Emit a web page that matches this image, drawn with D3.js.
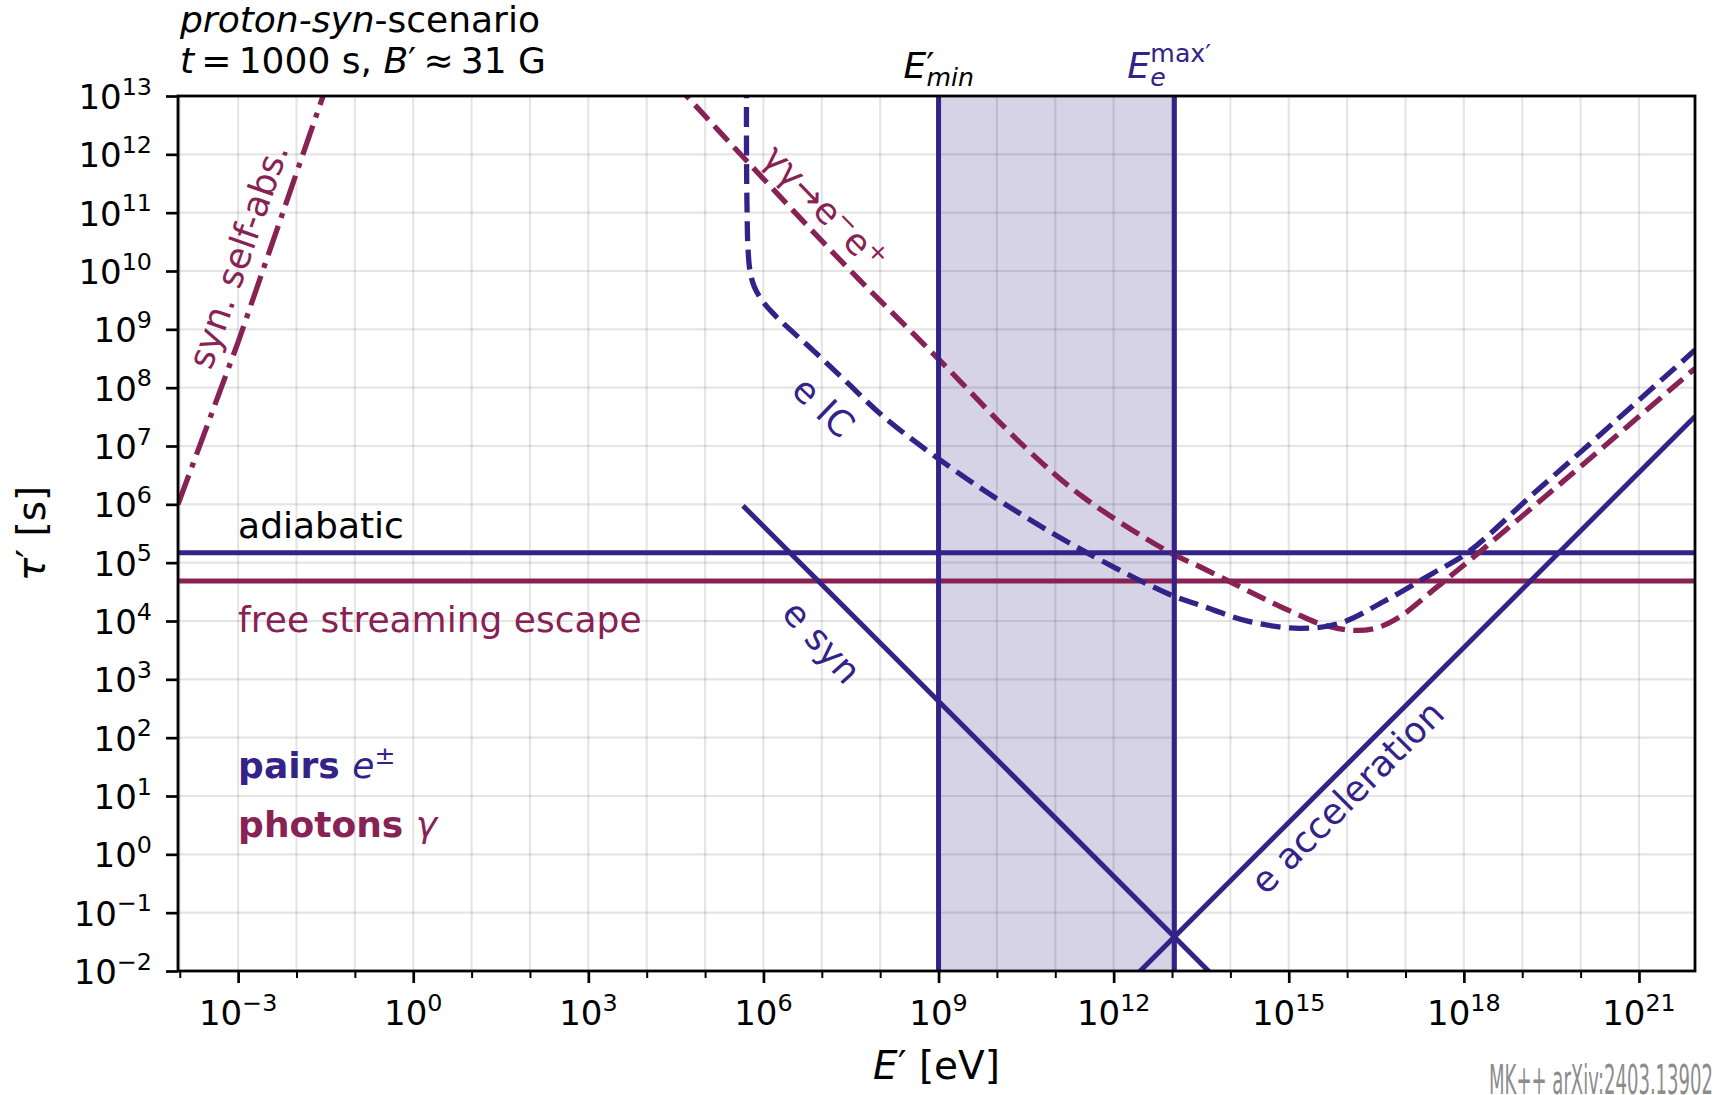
<!DOCTYPE html>
<html>
<head>
<meta charset="utf-8">
<script src="https://cdn.jsdelivr.net/npm/d3@7/dist/d3.min.js"></script>
<style>
html,body{margin:0;padding:0;background:#fff;}
svg{display:block;}
text{font-family:"DejaVu Sans","Noto Sans",sans-serif;}
</style>
</head>
<body>
<svg id="chart" width="1716" height="1095"></svg>
<script>
// ---------------- data (log10 values) ----------------
const xDomainLog = [-4.03, 21.96];            // log10 E' [eV]
const yDomainLog = [-2, 13];                  // log10 tau' [s]
const xMajorTickLogs = [-3, 0, 3, 6, 9, 12, 15, 18, 21];
const xMinorTickLogs = [-4, -2, -1, 1, 2, 4, 5, 7, 8, 10, 11, 13, 14, 16, 17, 19, 20];
const yTickLogs = [-2, -1, 0, 1, 2, 3, 4, 5, 6, 7, 8, 9, 10, 11, 12, 13];

const adiabaticLogTau = 5.17;
const freeStreamLogTau = 4.685;
const eMinLog = 9.0;
const eMaxLog = 13.04;

const synSelfAbsLogE   = [-4.03, -3.0, -1.2];
const synSelfAbsLogTau = [6.0, 8.78, 14.0];

const eSynLogE   = [5.65, 13.7];
const eSynLogTau = [5.975, -2.075];

const eAccLogE   = [12.3, 21.96];
const eAccLogTau = [-2.155, 7.505];

const eICLogE   = [5.71, 5.71, 5.72, 5.735, 5.77, 5.84, 5.96, 6.15, 6.43, 6.85, 7.37, 8.06, 9.0, 10.16, 11.47, 12.97, 13.48, 14.33, 15.19, 15.87, 16.62, 17.47, 18.06, 19.19, 20.33, 21.96];
const eICLogTau = [13.3, 12.0, 11.0, 10.4, 10.0, 9.74, 9.52, 9.29, 9.02, 8.64, 8.15, 7.50, 6.78, 5.99, 5.21, 4.45, 4.27, 3.99, 3.875, 3.96, 4.33, 4.82, 5.17, 6.18, 7.19, 8.645];

const ggLogE   = [4.5, 5.73, 7.37, 9.0, 10.48, 11.47, 12.97, 13.48, 14.62, 15.07, 15.6, 16.1, 16.5, 16.9, 17.5, 18.05, 19.19, 20.33, 21.96];
const ggLogTau = [13.2, 11.87, 10.13, 8.49, 6.98, 6.13, 5.17, 4.93, 4.36, 4.15, 3.93, 3.84, 3.88, 4.07, 4.55, 5.0, 5.96, 6.93, 8.33];

// label anchors (log10 E, log10 tau)
const labelSynSelfAbs = [-3.0, 10.26];
const labelGG = [7.05, 11.08];
const labelIC = [7.03, 7.67];
const labelESyn = [7.0, 3.64];
const labelEAcc = [16.0, 0.98];
const textLeftLogE = -3.0;
const adiabaticTextLogTau = 5.42;
const freeTextLogTau = 3.81;
const pairsTextLogTau = 1.31;
const photonsTextLogTau = 0.297;

// ---------------- setup ----------------
const INDIGO = "#332288", WINE = "#882255";
const M = {left: 178, right: 1695, top: 96, bottom: 971};
const svg = d3.select("#chart");
const p10 = v => Math.pow(10, v);

const x = d3.scaleLog().domain(xDomainLog.map(p10)).range([M.left, M.right]);
const y = d3.scaleLog().domain(yDomainLog.map(p10)).range([M.bottom, M.top]);

svg.append("defs").append("clipPath").attr("id", "plotclip")
  .append("rect").attr("x", M.left).attr("y", M.top)
  .attr("width", M.right - M.left).attr("height", M.bottom - M.top);

// shaded band
svg.append("rect")
  .attr("x", x(p10(eMinLog))).attr("y", M.top)
  .attr("width", x(p10(eMaxLog)) - x(p10(eMinLog)))
  .attr("height", M.bottom - M.top)
  .attr("fill", INDIGO).attr("fill-opacity", 0.2);

// grid
const grid = svg.append("g").attr("stroke", "#000").attr("stroke-opacity", 0.1).attr("stroke-width", 2.2);
d3.range(-4, 22).forEach(e => {
  grid.append("line").attr("x1", x(p10(e))).attr("x2", x(p10(e)))
    .attr("y1", M.top).attr("y2", M.bottom);
});
yTickLogs.forEach(e => {
  grid.append("line").attr("y1", y(p10(e))).attr("y2", y(p10(e)))
    .attr("x1", M.left).attr("x2", M.right);
});

const plot = svg.append("g").attr("clip-path", "url(#plotclip)");
const pts = (xs, ys) => xs.map((v, i) => [v, ys[i]]);
const lineLin = d3.line().x(d => x(p10(d[0]))).y(d => y(p10(d[1])));
const lineCurve = d3.line().x(d => x(p10(d[0]))).y(d => y(p10(d[1]))).curve(d3.curveCatmullRom.alpha(0.5));

const LW = 5.0;
const LWD = 5.3;
// horizontal lines
plot.append("path").attr("d", lineLin(pts(xDomainLog, [adiabaticLogTau, adiabaticLogTau])))
  .attr("fill", "none").attr("stroke", INDIGO).attr("stroke-width", LW);
plot.append("path").attr("d", lineLin(pts(xDomainLog, [freeStreamLogTau, freeStreamLogTau])))
  .attr("fill", "none").attr("stroke", WINE).attr("stroke-width", LW);

// syn self-absorption
plot.append("path").attr("d", lineLin(pts(synSelfAbsLogE, synSelfAbsLogTau)))
  .attr("fill", "none").attr("stroke", WINE).attr("stroke-width", LWD)
  .attr("stroke-dasharray", "31,8.5,5,8.5");

// gamma gamma
plot.append("path").attr("d", lineCurve(pts(ggLogE, ggLogTau)))
  .attr("fill", "none").attr("stroke", WINE).attr("stroke-width", LWD)
  .attr("stroke-dasharray", "20,8.5");

// e IC
plot.append("path").attr("d", lineCurve(pts(eICLogE, eICLogTau)))
  .attr("fill", "none").attr("stroke", INDIGO).attr("stroke-width", LWD)
  .attr("stroke-dasharray", "20,8.5");

// e syn, e acc
plot.append("path").attr("d", lineLin(pts(eSynLogE, eSynLogTau)))
  .attr("fill", "none").attr("stroke", INDIGO).attr("stroke-width", LW);
plot.append("path").attr("d", lineLin(pts(eAccLogE, eAccLogTau)))
  .attr("fill", "none").attr("stroke", INDIGO).attr("stroke-width", LW);

// vertical lines
[eMinLog, eMaxLog].forEach(e => {
  plot.append("path").attr("d", lineLin(pts([e, e], yDomainLog)))
    .attr("fill", "none").attr("stroke", INDIGO).attr("stroke-width", LW);
});

// frame
svg.append("rect").attr("x", M.left).attr("y", M.top)
  .attr("width", M.right - M.left).attr("height", M.bottom - M.top)
  .attr("fill", "none").attr("stroke", "#000").attr("stroke-width", 2.8);

// axes ticks
const xAxisMajor = d3.axisBottom(x).tickValues(xMajorTickLogs.map(p10)).tickSize(12).tickSizeOuter(0).tickFormat("");
const xAxisMinor = d3.axisBottom(x).tickValues(xMinorTickLogs.map(p10)).tickSize(7).tickSizeOuter(0).tickFormat("");
const yAxis = d3.axisLeft(y).tickValues(yTickLogs.map(p10)).tickSize(12).tickSizeOuter(0).tickFormat("");
function styleAxis(g, w) {
  g.select(".domain").remove();
  g.selectAll(".tick line").attr("stroke", "#000").attr("stroke-width", w);
}
svg.append("g").attr("transform", `translate(0,${M.bottom})`).call(xAxisMajor).call(g => styleAxis(g, 2.7));
svg.append("g").attr("transform", `translate(0,${M.bottom})`).call(xAxisMinor).call(g => styleAxis(g, 2.0));
svg.append("g").attr("transform", `translate(${M.left},0)`).call(yAxis).call(g => styleAxis(g, 2.7));

// tick labels
const TFS = 34;
function powLabel(t, e) {
  t.append("tspan").text("10");
  t.append("tspan").attr("font-size", TFS * 0.7).attr("dy", -TFS * 0.42)
    .text(e < 0 ? "\u2212" + Math.abs(e) : String(e));
}
xMajorTickLogs.forEach(e => {
  const t = svg.append("text").attr("x", x(p10(e))).attr("y", 1025)
    .attr("text-anchor", "middle").attr("font-size", TFS).attr("fill", "#000");
  powLabel(t, e);
});
yTickLogs.forEach(e => {
  const t = svg.append("text").attr("x", 152).attr("y", y(p10(e)) + 13)
    .attr("text-anchor", "end").attr("font-size", TFS).attr("fill", "#000");
  powLabel(t, e);
});

// axis labels
const xl = svg.append("text").attr("x", (M.left + M.right) / 2).attr("y", 1079)
  .attr("text-anchor", "middle").attr("font-size", 39);
xl.append("tspan").attr("font-style", "italic").text("E");
xl.append("tspan").text("\u2032 [eV]");
const yl = svg.append("text").attr("transform", `translate(45,${(M.top + M.bottom) / 2}) rotate(-90)`)
  .attr("text-anchor", "middle").attr("font-size", 39);
yl.append("tspan").attr("font-style", "italic").text("\u03c4");
yl.append("tspan").text("\u2032 [s]");

// title
const FS = 36;
const t1 = svg.append("text").attr("x", 180).attr("y", 32).attr("font-size", FS);
t1.append("tspan").attr("font-style", "italic").text("proton-syn");
t1.append("tspan").text("-scenario");
const t2 = svg.append("text").attr("x", 180).attr("y", 73).attr("font-size", FS);
t2.append("tspan").attr("font-style", "italic").text("t");
t2.append("tspan").text("\u2009=\u20091000 s, ");
t2.append("tspan").attr("font-style", "italic").text("B");
t2.append("tspan").text("\u2032\u2009\u2248\u200931 G");

// E'min label
const xm = x(p10(eMinLog));
const em = svg.append("text").attr("x", xm - 35).attr("y", 78).attr("font-size", FS);
em.append("tspan").attr("font-style", "italic").text("E");
em.append("tspan").text("\u2032");
em.append("tspan").attr("x", xm - 12).attr("dy", 8).attr("font-size", 25.2)
  .attr("font-style", "italic").text("min");

// E_e^max' label
const xe = x(p10(eMaxLog));
const ex = svg.append("text").attr("x", xe - 47).attr("y", 78).attr("font-size", FS).attr("fill", INDIGO);
ex.append("tspan").attr("font-style", "italic").text("E");
ex.append("tspan").attr("x", xe - 24).attr("dy", 8).attr("font-size", 25.2)
  .attr("font-style", "italic").text("e");
ex.append("tspan").attr("x", xe - 24).attr("dy", -24).attr("font-size", 25.2).text("max\u2032");

// curve labels
function rotLabel(pos, angle, color, build) {
  const px = x(p10(pos[0])), py = y(p10(pos[1]));
  const t = svg.append("text").attr("transform", `translate(${px},${py}) rotate(${angle})`)
    .attr("text-anchor", "middle").attr("dy", "0.35em").attr("font-size", FS).attr("fill", color);
  build(t);
}
rotLabel(labelSynSelfAbs, -70.7, WINE, t => t.text("syn. self-abs."));
rotLabel(labelGG, 46, WINE, t => {
  t.append("tspan").text("\u03b3\u03b3\u2192e");
  t.append("tspan").attr("font-size", 25).attr("dy", -12).text("\u2212");
  t.append("tspan").attr("dy", 12).text("e");
  t.append("tspan").attr("font-size", 25).attr("dy", -12).text("+");
});
rotLabel(labelIC, 44, INDIGO, t => t.text("e IC"));
rotLabel(labelESyn, 48, INDIGO, t => t.text("e syn"));
rotLabel(labelEAcc, -45, INDIGO, t => t.text("e acceleration"));

// left texts
const lx = x(p10(textLeftLogE));
svg.append("text").attr("x", lx).attr("y", y(p10(adiabaticTextLogTau))).attr("font-size", FS)
  .attr("fill", "#000").text("adiabatic");
svg.append("text").attr("x", lx).attr("y", y(p10(freeTextLogTau))).attr("font-size", FS)
  .attr("fill", WINE).text("free streaming escape");
const pt = svg.append("text").attr("x", lx).attr("y", y(p10(pairsTextLogTau))).attr("font-size", FS).attr("fill", INDIGO);
pt.append("tspan").attr("font-weight", "bold").text("pairs ");
pt.append("tspan").attr("font-style", "italic").text("e");
pt.append("tspan").attr("font-size", 25).attr("dy", -14).text("\u00b1");
const ph = svg.append("text").attr("x", lx).attr("y", y(p10(photonsTextLogTau))).attr("font-size", FS).attr("fill", WINE);
ph.append("tspan").attr("font-weight", "bold").text("photons ");
ph.append("tspan").attr("font-style", "italic").text("\u03b3");

// watermark
svg.append("text").attr("x", 1489).attr("y", 1094)
  .attr("font-family", "'Liberation Sans',Arial,sans-serif")
  .attr("font-size", 40).attr("fill", "#8c8c8c")
  .attr("textLength", 224).attr("lengthAdjust", "spacingAndGlyphs")
  .text("MK++ arXiv:2403.13902");
</script>
</body>
</html>
